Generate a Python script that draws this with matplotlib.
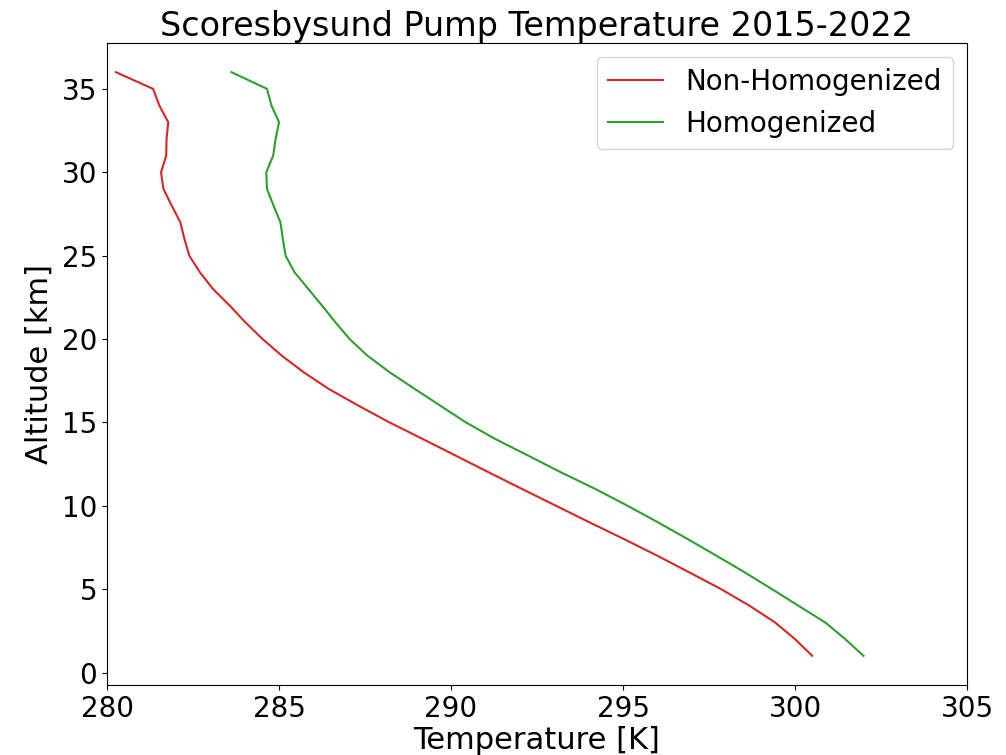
import matplotlib
matplotlib.use("Agg")
import matplotlib.pyplot as plt

# altitude levels [km]
altitude = list(range(1, 37))

# mean pump temperature per level [K]
temp_non_homog = [
    300.50, 300.00, 299.42, 298.68, 297.85, 296.93, 296.00, 295.03, 294.03, 293.05,
    292.07, 291.10, 290.14, 289.18, 288.21, 287.31, 286.45, 285.72, 285.08, 284.52,
    284.02, 283.57, 283.08, 282.70, 282.39, 282.25, 282.13, 281.88, 281.64, 281.57,
    281.72, 281.73, 281.78, 281.52, 281.34, 280.26,
]
temp_homog = [
    301.99, 301.46, 300.88, 300.10, 299.33, 298.54, 297.72, 296.88, 296.02, 295.13,
    294.20, 293.20, 292.25, 291.29, 290.43, 289.69, 288.95, 288.22, 287.57, 287.05,
    286.64, 286.25, 285.85, 285.45, 285.19, 285.11, 285.04, 284.84, 284.65, 284.63,
    284.83, 284.90, 285.00, 284.78, 284.65, 283.62,
]

fig = plt.figure(figsize=(10.06, 7.55), dpi=100)
ax = fig.add_axes([0.1064, 0.0927, 0.8549, 0.8503])

ax.plot(temp_non_homog, altitude, color="tab:red", lw=1.5, label="Non-Homogenized")
ax.plot(temp_homog, altitude, color="tab:green", lw=1.5, label="Homogenized")

ax.set_xlim(280, 305)
ax.set_title("Scoresbysund Pump Temperature 2015-2022", fontsize=24, pad=4)
ax.set_xlabel("Temperature [K]", fontsize=22, labelpad=2)
ax.set_ylabel("Altitude [km]", fontsize=22, labelpad=6)
ax.tick_params(labelsize=20)
ax.legend(fontsize=20, loc="upper right")

fig.savefig("out.png", dpi=100)
